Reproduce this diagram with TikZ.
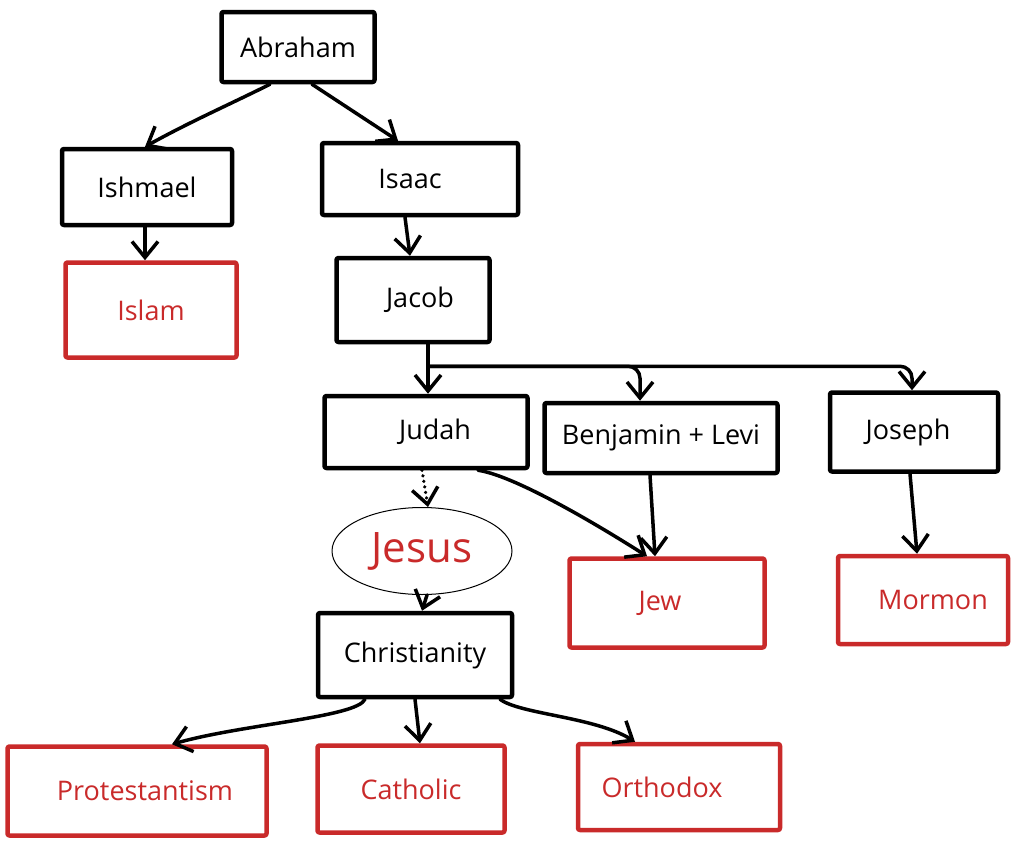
\documentclass[tikz,border=0pt]{standalone}
\usepackage{fontspec}
\setmainfont{Open Sans}
\usetikzlibrary{arrows.meta,shapes.geometric}
\definecolor{exred}{HTML}{C92A2A}
\begin{document}
\begin{tikzpicture}[x=1pt,y=-1pt,
  bbox/.style={draw=black, line width=4.5pt, line join=round, rounded corners=2pt, inner sep=0pt,
    font=\fontsize{27}{31}\selectfont},
  rbox/.style={bbox, draw=exred, text=exred},
  arr/.style={line width=3.5pt, line cap=round, line join=round,
    -{Straight Barb[length=16pt,width=26pt,line width=3.5pt]}},
  dotarr/.style={arr, dash pattern=on 0.1pt off 5.5pt}
]
\useasboundingbox (0,0) rectangle (1020,846);
% nodes
\node[bbox, minimum width=153pt, minimum height=70pt] (abraham) at (298,47) {Abraham};
\node[bbox, minimum width=170pt, minimum height=76pt] (ishmael) at (147,187) {Ishmael};
\node[bbox, minimum width=196pt, minimum height=72pt] (isaac) at (420,179) {Isaac\hspace*{20pt}};
\node[rbox, minimum width=171pt, minimum height=95pt] (islam) at (151,310) {Islam};
\node[bbox, minimum width=153pt, minimum height=84pt] (jacob) at (413,300) {\hspace*{14pt}Jacob};
\node[bbox, minimum width=203pt, minimum height=72pt] (judah) at (426,432) {\hspace*{18pt}Judah};
\node[bbox, minimum width=233pt, minimum height=70pt] (benj) at (661,438) {Benjamin + Levi};
\node[bbox, minimum width=168pt, minimum height=79pt] (joseph) at (914,432) {Joseph\hspace*{12pt}};
\node[ellipse, draw=black, line width=1pt, minimum width=180pt, minimum height=87pt,
  inner sep=0pt, text=exred, font=\fontsize{42}{46}\selectfont] (jesus) at (422,551) {Jesus};
\node[rbox, minimum width=195pt, minimum height=89pt] (jew) at (667,603) {Jew\hspace*{14pt}};
\node[rbox, minimum width=170pt, minimum height=88pt] (mormon) at (923,600) {\hspace*{20pt}Mormon};
\node[bbox, minimum width=194pt, minimum height=84pt] (christ) at (415,655) {Christianity};
\node[rbox, minimum width=259pt, minimum height=89pt] (prot) at (137,791) {\hspace*{16pt}Protestantism};
\node[rbox, minimum width=187pt, minimum height=87pt] (cath) at (411,789) {Catholic};
\node[rbox, minimum width=202pt, minimum height=86pt] (orth) at (679,787) {Orthodox\hspace*{34pt}};
% connectors
\draw[arr] ([xshift=-28pt]abraham.south) .. controls +(-40,20) and +(45,-25) .. ([xshift=-2pt]ishmael.north);
\draw[arr] ([xshift=14pt]abraham.south) -- ([xshift=-22pt]isaac.north);
\draw[arr] ([xshift=-2pt]ishmael.south) -- ([xshift=-6pt]islam.north);
\draw[arr] ([xshift=-15pt]isaac.south) -- ([xshift=-3pt]jacob.north);
\coordinate (jn) at ([xshift=15pt,yshift=-22pt]jacob.south);
\draw[arr] ([xshift=15pt]jacob.south) -- ([xshift=2pt]judah.north);
\draw[arr, rounded corners=12pt] (jn) -| ([xshift=-21pt]benj.north);
\draw[arr, rounded corners=12pt] (jn) -| ([xshift=-2pt]joseph.north);
\draw[dotarr] ([xshift=-4pt]judah.south) -- ([xshift=6pt]jesus.north);
\draw[arr] ([xshift=52pt]judah.south) .. controls +(35,5) and +(-55,-35) .. ([xshift=-20pt]jew.north);
\draw[arr] ([xshift=-11pt]benj.south) -- ([xshift=-12pt]jew.north);
\draw[arr] ([xshift=-4pt]joseph.south) -- ([xshift=-6pt]mormon.north);
\draw[arr] ([xshift=5pt]jesus.south) -- ([xshift=7pt]christ.north);
\draw[arr] ([xshift=-50pt]christ.south) .. controls +(-8,18) and +(70,-20) .. ([xshift=35pt]prot.north);
\draw[arr] (christ.south) -- ([xshift=9pt]cath.north);
\draw[arr] ([xshift=85pt]christ.south) .. controls +(20,15) and +(-40,-25) .. ([xshift=-44pt]orth.north);
\end{tikzpicture}
\end{document}
